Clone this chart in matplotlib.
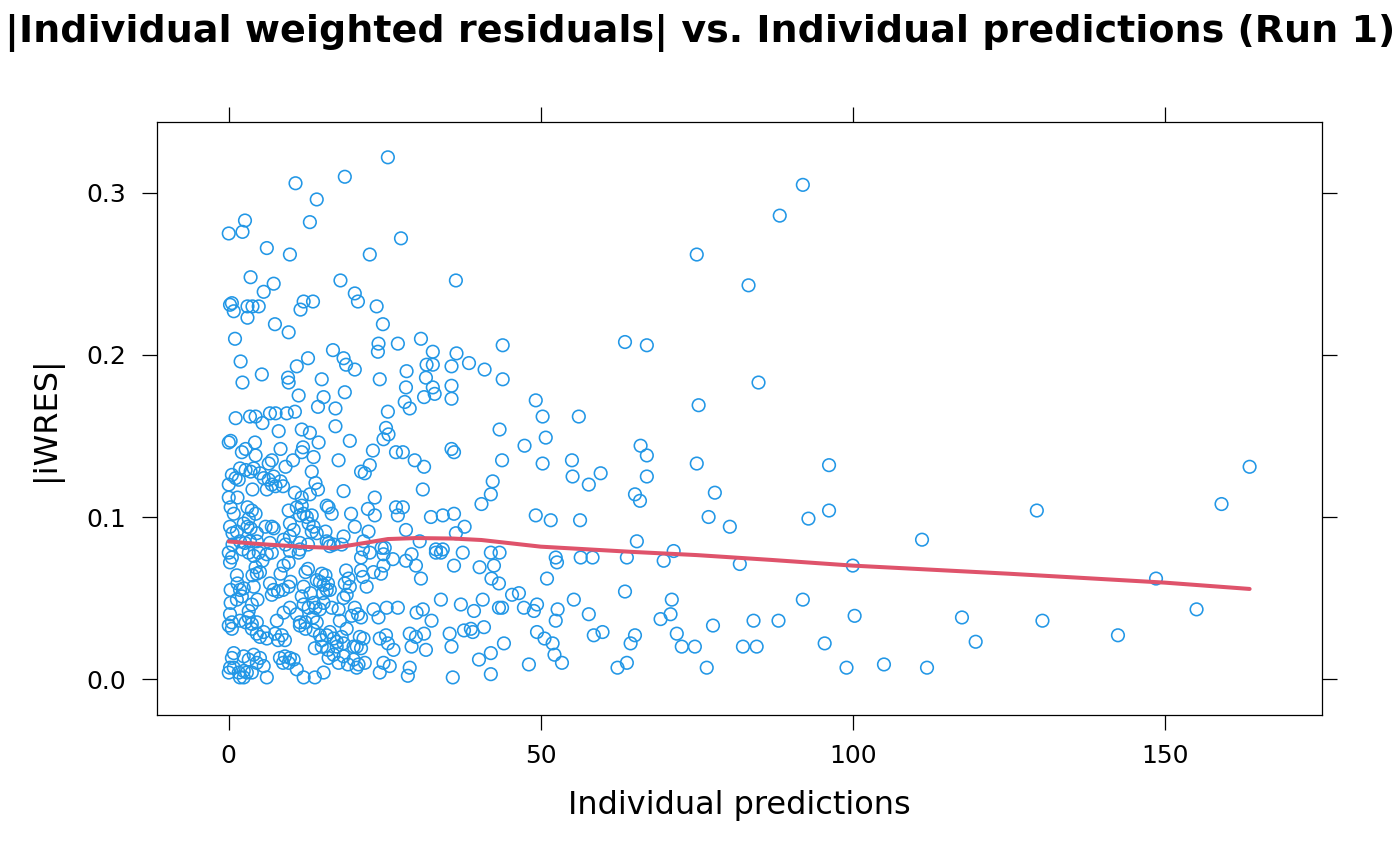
import matplotlib
matplotlib.use("Agg")
import matplotlib.pyplot as plt

# individual predictions (x) and |iWRES| (y)
ipred = [
    25.5, 18.6, 10.7, 14.1, 2.6, 0.0, 2.2, 13.0, 27.6, 6.1, 9.8, 22.6, 3.5, 7.2, 5.6, 17.9,
    20.2, 20.7, 23.7, 36.4, 0.2, 0.5, 0.8, 3.0, 3.8, 4.8, 3.0, 12.0, 11.5, 13.5, 7.4, 9.6,
    24.7, 1.0, 24.0, 23.9, 27.1, 30.8, 32.7, 36.5, 1.9, 16.7, 18.4, 18.8, 20.2, 12.7, 10.9, 5.3,
    2.2, 9.5, 9.6, 14.9, 24.2, 28.5, 31.7, 32.7, 31.6, 35.7, 28.4, 32.7, 35.7, 11.2, 15.2, 18.6,
    31.3, 33.0, 35.7,
    28.2, 29.0, 1.1, 3.4, 4.3, 5.4, 6.6, 7.5, 9.3, 10.6, 14.3, 17.1, 25.5, 8.0, 11.7, 13.0,
    17.1, 14.4, 19.4, 0.0, 0.3, 2.7, 2.1, 4.2, 4.3, 8.3, 11.9, 11.7, 13.6, 10.3, 6.9, 6.4,
    17.6, 24.8, 25.2, 25.6, 23.1, 26.8, 27.9, 29.8, 31.3, 35.7, 36.1, 22.6, 21.2, 21.8, 13.3, 9.1,
    1.8, 2.7, 4.0, 3.5, 0.5, 1.1, 1.6, 5.0, 5.6, 6.4, 7.2, 8.3, 8.7, 13.9, 14.3, 0.0,
    3.8, 6.1, 6.9, 7.5, 10.6, 18.4, 31.1, 0.0, 1.4, 11.7, 13.0, 23.4, 0.3, 0.8, 3.0, 3.7,
    4.3, 3.2, 9.6, 10.9, 11.7, 12.0, 11.4, 12.5, 13.3, 12.8, 15.7, 16.0, 16.5, 19.6, 22.3, 23.4,
    26.8, 27.9, 27.1, 32.4, 34.3, 36.1, 0.2, 0.6, 1.3, 2.4, 3.0, 3.5, 4.5, 5.9, 6.9, 7.2,
    9.8, 10.4, 9.8, 13.6, 13.3, 14.1, 15.5, 20.2, 22.4, 28.4, 18.4, 0.6, 1.8, 2.6, 3.4, 4.5,
    6.6, 8.8, 9.1, 11.4, 12.7, 16.0, 16.8, 21.6, 25.0, 30.6, 33.2, 34.3,
    0.0, 0.5, 0.2, 2.2, 3.2, 4.0, 4.8, 5.4, 6.1, 6.9, 4.3, 5.0, 8.8, 9.6, 8.3, 9.8,
    11.4, 11.2, 12.7, 12.3, 14.9, 15.5, 14.1, 16.2, 18.1, 15.7, 21.5, 21.2, 22.6, 24.5, 24.8, 26.3,
    24.8, 24.4, 23.2, 21.2, 21.5, 18.8, 19.2, 28.4, 29.3, 30.0, 30.8, 33.2, 34.0, 36.1, 1.3, 1.4,
    0.3, 1.8, 2.4, 2.1, 1.3, 0.3, 4.0, 3.8, 4.5, 6.6, 7.2, 6.9, 7.9, 8.7, 9.6, 9.9,
    12.0, 11.7, 13.1, 14.6, 15.2, 15.9, 16.2, 15.1, 15.7, 18.6, 19.4, 18.9, 18.4, 22.1, 4.6, 3.7,
    3.2, 0.2, 0.5, 0.0, 0.5, 1.8, 2.7, 3.2, 3.7, 4.5, 7.7, 8.8, 9.8, 10.9, 11.4, 12.3,
    13.5, 14.1, 12.0, 12.8, 13.6, 13.9, 14.6, 15.2, 17.8, 17.6, 16.5, 19.7, 20.7, 20.2, 21.2, 23.2,
    24.0, 25.3, 27.1, 30.1, 31.1, 32.5, 34.0, 3.7, 4.5, 5.0, 5.6, 6.1, 7.4, 7.9, 8.5, 9.0,
    11.4, 12.3, 13.6, 14.6, 14.9, 15.7, 16.2, 16.8, 17.3, 18.1, 18.4, 18.9, 21.0, 21.6, 24.2, 25.2,
    25.5, 26.4, 13.8, 14.9, 15.9, 17.3, 20.0, 20.5, 21.2, 29.0, 30.0, 31.3, 29.3, 31.6, 35.4, 35.7,
    0.8, 0.5, 2.4, 3.2, 4.0, 4.5, 5.0, 0.2, 0.0, 0.8, 1.6, 2.4, 2.9, 2.4, 1.8, 3.7,
    5.6, 6.1, 8.2, 9.0, 9.8, 8.7, 9.6, 10.4, 10.9, 12.0, 13.8, 15.2, 16.0, 16.8, 17.6, 18.4,
    19.1, 20.0, 20.8, 21.8, 20.5, 24.2, 24.8, 25.8, 29.0, 28.7, 35.9,
    43.9, 63.5, 67.0, 38.5, 41.0, 43.9, 84.9, 49.2, 50.3, 56.1, 75.3, 43.4, 50.8, 75.0, 83.3,
    47.4, 43.8, 50.3, 55.0, 55.1, 57.7, 59.6, 66.0, 67.0, 67.0, 65.1, 65.9, 75.0, 77.9, 76.9, 80.3,
    42.3, 42.0, 40.5, 37.8, 49.2, 51.6, 56.3, 65.4, 71.3, 69.7, 81.9, 37.5, 42.0, 43.4, 40.2, 42.5,
    52.4, 52.6, 56.4, 58.3, 63.8, 42.1, 43.3, 51.0, 63.5, 71.0, 70.8, 69.2, 84.1, 77.6, 82.4, 84.6,
    71.8, 72.6, 74.7, 76.6, 37.2, 39.3, 40.7, 43.3, 43.8, 45.4, 46.5, 47.3, 48.9, 49.4, 52.7, 52.4,
    55.3, 57.7, 59.9, 58.5, 65.1, 64.4, 63.8, 62.3, 37.7, 38.8, 39.1, 40.9, 44.1, 49.4, 50.6, 51.9,
    52.2, 53.4, 40.1, 42.0, 48.1, 42.0, 36.4,
    88.3, 92.0, 96.2, 96.2, 92.9, 100.0, 111.1, 129.5, 159.1, 163.6, 148.6, 155.1, 142.5, 130.4,
    117.5, 119.7, 105.0, 111.9, 99.0, 100.3, 95.5, 92.0, 88.1,
]
iwres = [
    0.322, 0.310, 0.306, 0.296, 0.283, 0.275, 0.276, 0.282, 0.272, 0.266, 0.262, 0.262, 0.248, 0.244, 0.239, 0.246,
    0.238, 0.233, 0.230, 0.246, 0.231, 0.232, 0.227, 0.230, 0.230, 0.230, 0.223, 0.233, 0.228, 0.233, 0.219, 0.214,
    0.219, 0.210, 0.207, 0.202, 0.207, 0.210, 0.202, 0.201, 0.196, 0.203, 0.198, 0.194, 0.191, 0.198, 0.193, 0.188,
    0.183, 0.186, 0.183, 0.185, 0.185, 0.190, 0.194, 0.194, 0.186, 0.193, 0.180, 0.180, 0.181, 0.175, 0.174, 0.177,
    0.174, 0.176, 0.173,
    0.171, 0.167, 0.161, 0.162, 0.162, 0.158, 0.164, 0.164, 0.164, 0.165, 0.168, 0.167, 0.165, 0.153, 0.154, 0.152,
    0.156, 0.146, 0.147, 0.146, 0.147, 0.142, 0.140, 0.146, 0.138, 0.142, 0.143, 0.140, 0.137, 0.135, 0.135, 0.133,
    0.135, 0.148, 0.155, 0.151, 0.141, 0.140, 0.140, 0.135, 0.131, 0.142, 0.140, 0.132, 0.128, 0.127, 0.128, 0.131,
    0.130, 0.129, 0.130, 0.128, 0.126, 0.124, 0.123, 0.127, 0.124, 0.123, 0.125, 0.122, 0.119, 0.121, 0.117, 0.120,
    0.117, 0.117, 0.120, 0.119, 0.115, 0.116, 0.117, 0.112, 0.112, 0.112, 0.114, 0.112, 0.106, 0.102, 0.106, 0.104,
    0.102, 0.099, 0.104, 0.106, 0.107, 0.102, 0.101, 0.100, 0.101, 0.096, 0.107, 0.106, 0.102, 0.102, 0.105, 0.101,
    0.106, 0.106, 0.101, 0.100, 0.101, 0.102, 0.094, 0.090, 0.091, 0.096, 0.094, 0.093, 0.090, 0.094, 0.094, 0.093,
    0.096, 0.092, 0.088, 0.094, 0.091, 0.090, 0.091, 0.094, 0.091, 0.092, 0.088, 0.083, 0.085, 0.084, 0.085, 0.085,
    0.084, 0.086, 0.083, 0.084, 0.083, 0.084, 0.083, 0.085, 0.081, 0.085, 0.080, 0.080,
    0.078, 0.075, 0.072, 0.080, 0.078, 0.076, 0.078, 0.073, 0.077, 0.078, 0.069, 0.066, 0.070, 0.072, 0.065, 0.079,
    0.080, 0.078, 0.068, 0.066, 0.065, 0.064, 0.061, 0.082, 0.083, 0.085, 0.080, 0.075, 0.078, 0.081, 0.077, 0.074,
    0.070, 0.065, 0.066, 0.067, 0.063, 0.067, 0.062, 0.073, 0.077, 0.070, 0.062, 0.078, 0.078, 0.070, 0.064, 0.059,
    0.055, 0.055, 0.056, 0.051, 0.049, 0.047, 0.057, 0.064, 0.065, 0.059, 0.055, 0.052, 0.054, 0.055, 0.057, 0.060,
    0.057, 0.051, 0.053, 0.060, 0.058, 0.059, 0.055, 0.053, 0.055, 0.059, 0.057, 0.052, 0.050, 0.057, 0.049, 0.046,
    0.042, 0.040, 0.035, 0.033, 0.031, 0.036, 0.035, 0.038, 0.034, 0.035, 0.036, 0.041, 0.044, 0.040, 0.035, 0.035,
    0.038, 0.035, 0.046, 0.044, 0.047, 0.044, 0.043, 0.047, 0.036, 0.043, 0.044, 0.039, 0.040, 0.044, 0.038, 0.043,
    0.038, 0.044, 0.044, 0.041, 0.043, 0.036, 0.049, 0.031, 0.028, 0.026, 0.029, 0.025, 0.028, 0.024, 0.027, 0.024,
    0.033, 0.031, 0.030, 0.027, 0.024, 0.027, 0.029, 0.025, 0.023, 0.026, 0.022, 0.031, 0.026, 0.025, 0.025, 0.027,
    0.022, 0.018, 0.019, 0.020, 0.018, 0.020, 0.020, 0.020, 0.019, 0.028, 0.026, 0.028, 0.020, 0.018, 0.028, 0.020,
    0.016, 0.013, 0.014, 0.012, 0.015, 0.010, 0.013, 0.007, 0.004, 0.007, 0.004, 0.005, 0.004, 0.001, 0.001, 0.004,
    0.008, 0.001, 0.013, 0.014, 0.013, 0.010, 0.010, 0.012, 0.006, 0.001, 0.001, 0.004, 0.013, 0.015, 0.010, 0.014,
    0.009, 0.012, 0.009, 0.010, 0.007, 0.004, 0.010, 0.008, 0.007, 0.002, 0.001,
    0.206, 0.208, 0.206, 0.195, 0.191, 0.185, 0.183, 0.172, 0.162, 0.162, 0.169, 0.154, 0.149, 0.262, 0.243,
    0.144, 0.135, 0.133, 0.135, 0.125, 0.120, 0.127, 0.144, 0.138, 0.125, 0.114, 0.110, 0.133, 0.115, 0.100, 0.094,
    0.122, 0.114, 0.108, 0.094, 0.101, 0.098, 0.098, 0.085, 0.079, 0.073, 0.071, 0.078, 0.078, 0.078, 0.069, 0.070,
    0.075, 0.072, 0.075, 0.075, 0.075, 0.062, 0.059, 0.062, 0.054, 0.049, 0.040, 0.037, 0.036, 0.033, 0.020, 0.020,
    0.028, 0.020, 0.020, 0.007, 0.046, 0.042, 0.049, 0.044, 0.044, 0.052, 0.053, 0.044, 0.042, 0.046, 0.043, 0.036,
    0.049, 0.040, 0.029, 0.027, 0.027, 0.022, 0.010, 0.007, 0.030, 0.031, 0.029, 0.032, 0.022, 0.029, 0.025, 0.022,
    0.015, 0.010, 0.012, 0.016, 0.009, 0.003, 0.090,
    0.286, 0.305, 0.132, 0.104, 0.099, 0.070, 0.086, 0.104, 0.108, 0.131, 0.062, 0.043, 0.027, 0.036,
    0.038, 0.023, 0.009, 0.007, 0.007, 0.039, 0.022, 0.049, 0.036,
]

# smoothed trend line (red)
smooth_x = [0, 5, 11.5, 16.8, 21.8, 25.5, 30, 36, 40.5, 50, 65, 75, 87, 100, 125, 150, 163.6]
smooth_y = [0.0849, 0.0833, 0.0817, 0.0809, 0.0840, 0.0864, 0.0870, 0.0867, 0.0858,
            0.0817, 0.0784, 0.0765, 0.0735, 0.0700, 0.0650, 0.0595, 0.0556]

x_ticks = [0, 50, 100, 150]
y_ticks = [0.0, 0.1, 0.2, 0.3]

pt_col = "#2297E6"
line_col = "#DF536B"

fig = plt.figure(figsize=(14, 8.66), dpi=100)
ax = fig.add_axes([157 / 1400, 1 - 715 / 866, (1322 - 157) / 1400, (715 - 122) / 866])

ax.scatter(ipred, iwres, s=82, facecolors="none", edgecolors=pt_col, linewidths=1.15, zorder=2)
ax.plot(smooth_x, smooth_y, color=line_col, lw=2.9, zorder=3, solid_capstyle="round")

ax.set_xlim(-11.5, 175.2)
ax.set_ylim(-0.0222, 0.3438)
ax.set_xticks(x_ticks)
ax.set_yticks(y_ticks)
ax.set_yticklabels([f"{v:.1f}" for v in y_ticks])
ax.tick_params(direction="out", length=11, width=0.9, labelsize=18,
               top=True, right=True, labeltop=False, labelright=False)
ax.tick_params(axis="x", pad=10)
ax.tick_params(axis="y", pad=11)
for sp in ax.spines.values():
    sp.set_linewidth(0.9)

ax.set_xlabel("Individual predictions", fontsize=23, labelpad=16)
ax.set_ylabel("|iWRES|", fontsize=23, labelpad=18)

fig.text(0.5, 1 - 33 / 866, "|Individual weighted residuals| vs. Individual predictions (Run 1)",
         ha="center", va="center", fontsize=27.4, fontweight="bold")

fig.savefig("out.png", dpi=100)
